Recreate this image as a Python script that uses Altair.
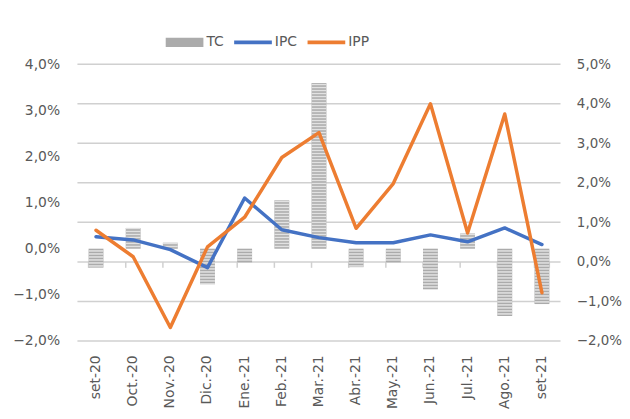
import altair as alt
import pandas as pd

# ---------------- data ----------------
months = ["set-20", "Oct.-20", "Nov.-20", "Dic.-20", "Ene.-21", "Feb.-21", "Mar.-21",
          "Abr.-21", "May.-21", "Jun.-21", "Jul.-21", "Ago.-21", "set-21"]
tc = [-0.41, 0.45, 0.13, -0.77, -0.30, 1.05, 3.59, -0.40, -0.30, -0.88, 0.33, -1.46, -1.20]
ipc = [0.26, 0.19, -0.02, -0.41, 1.10, 0.41, 0.24, 0.13, 0.13, 0.30, 0.15, 0.45, 0.09]
ipp = [0.80, 0.13, -1.66, 0.38, 1.13, 2.64, 3.27, 0.85, 1.98, 4.00, 0.73, 3.74, -0.78]
series = ["TC", "IPC", "IPP"]
left_ticks = [-2, -1, 0, 1, 2, 3, 4]
right_ticks = [-2, -1, 0, 1, 2, 3, 4, 5]

# ---------------- tables ----------------
df_tc = pd.DataFrame({"month": months, "value": tc, "serie": "TC"})
df_ipc = pd.DataFrame({"month": months, "value": ipc, "serie": "IPC"})
df_ipp = pd.DataFrame({"month": months, "value": ipp, "serie": "IPP"})
df_grid = pd.DataFrame({"v": right_ticks})
df_cat_ticks = pd.DataFrame({"month": months, "z": 0})
df_last_tick = pd.DataFrame({"month": months[-1:], "z": 0})

# hatch stripes inside each TC bar (derived from the TC values)
step = 0.065
rows = []
for m, v in zip(months, tc):
    sign = 1 if v >= 0 else -1
    a = abs(v)
    k = 0
    while k * step + step * 0.5 < a:
        lo = k * step + step * 0.5
        hi = min(lo + step * 0.5, a)
        rows.append({"month": m, "lo": sign * lo, "hi": sign * hi})
        k += 1
df_stripes = pd.DataFrame(rows)

FONT = "DejaVu Sans"
TXT = "#595959"
GRID = "#d0d0d0"

color_scale = alt.Scale(domain=series, range=["#ababab", "#4472c4", "#ed7d31"])
legend = alt.Legend(
    title=None, orient="none", direction="horizontal", legendX=89, legendY=-41,
    padding=0, labelFont=FONT, labelFontSize=14, labelColor=TXT, labelOffset=3,
    columnPadding=10, symbolSize=1444,
    symbolType=alt.ExprRef(expr="datum.value === 'TC' ? 'M-1,-0.25H1V0.25H-1Z' : 'M-1,-0.1H1V0.1H-1Z'"),
    symbolFillColor=alt.ExprRef(expr="scale('color', datum.value)"),
    symbolStrokeWidth=0, symbolOpacity=1,
)

x_scale = alt.Scale(paddingInner=0.6, paddingOuter=0.3)
x_label_axis = alt.Axis(title=None, labelAngle=-90, labelAlign="right", labelBaseline="middle",
                        labelPadding=14, domain=False, ticks=False, grid=False,
                        labelFont=FONT, labelFontSize=14, labelColor=TXT)

pct = "replace(format(datum.value/100, '.1%'), '.', ',')"
left_axis = alt.Axis(title=None, orient="left", values=left_ticks, grid=False, domain=False,
                     ticks=False, tickSize=0, labelPadding=18, labelFont=FONT, labelFontSize=14,
                     labelColor=TXT, labelExpr=pct)
right_axis = alt.Axis(title=None, orient="right", values=right_ticks, grid=False,
                      domain=False, ticks=False, tickSize=0, labelPadding=16,
                      labelFont=FONT, labelFontSize=13.5, labelColor=TXT, labelExpr=pct)
left_scale = alt.Scale(domain=[-2, 4], nice=False, zero=False)
right_scale = alt.Scale(domain=[-2, 5], nice=False, zero=False)

X_lab = alt.X("month:N", sort=months, scale=x_scale, axis=x_label_axis)

# gridlines and category axis line on the secondary (right) scale
grid_rules = alt.Chart(df_grid).mark_rule(color=GRID, strokeWidth=1.5, opacity=1).encode(
    y=alt.Y("v:Q", scale=right_scale, axis=None),
)
cat_ticks = alt.Chart(df_cat_ticks).mark_tick(
    orient="vertical", color=GRID, thickness=1.5, size=6, yOffset=3, opacity=1
).encode(
    x=alt.X("month:N", sort=months, scale=x_scale, bandPosition=0, axis=x_label_axis),
    y=alt.Y("z:Q", scale=right_scale, axis=None),
)
last_tick = alt.Chart(df_last_tick).mark_tick(
    orient="vertical", color=GRID, thickness=1.5, size=6, yOffset=3, opacity=1
).encode(
    x=alt.X("month:N", sort=months, scale=x_scale, bandPosition=1, axis=x_label_axis),
    y=alt.Y("z:Q", scale=right_scale, axis=None),
)

bars = alt.Chart(df_tc).mark_bar(opacity=1).encode(
    x=X_lab,
    y=alt.Y("value:Q", scale=left_scale, axis=left_axis),
    color=alt.Color("serie:N", scale=color_scale, legend=legend),
)
stripes = alt.Chart(df_stripes).mark_bar(color="#e2e2e2", opacity=1).encode(
    x=X_lab,
    y=alt.Y("lo:Q", scale=left_scale, axis=left_axis),
    y2="hi:Q",
)
ipc_line = alt.Chart(df_ipc).mark_line(strokeWidth=3.5, strokeJoin="round", strokeCap="round").encode(
    x=X_lab,
    y=alt.Y("value:Q", scale=left_scale, axis=left_axis),
    color=alt.Color("serie:N", scale=color_scale, legend=legend),
)
left = alt.layer(bars, stripes, ipc_line)

ipp_line = alt.Chart(df_ipp).mark_line(strokeWidth=3.5, strokeJoin="round", strokeCap="round").encode(
    x=X_lab,
    y=alt.Y("value:Q", scale=right_scale, axis=right_axis),
    color=alt.Color("serie:N", scale=color_scale, legend=legend),
)

chart = alt.layer(grid_rules, cat_ticks, last_tick, left, ipp_line).resolve_scale(
    y="independent"
).resolve_axis(y="independent").properties(
    width=487, height=279,
    padding={"left": 70, "top": 55, "right": 62, "bottom": 75},
    autosize=alt.AutoSizeParams(type="none"),
    background="white",
).configure_view(stroke=None)

chart.save("out.html", embed_options={"renderer": "svg", "actions": False})
